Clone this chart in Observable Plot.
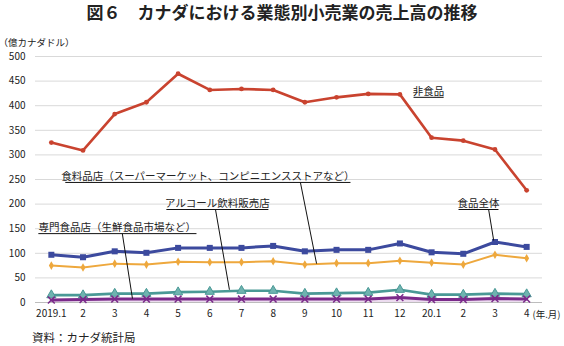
<!DOCTYPE html>
<html><head><meta charset="utf-8">
<script src="https://cdn.jsdelivr.net/npm/d3@7"></script>
<script src="https://cdn.jsdelivr.net/npm/@observablehq/plot@0.6"></script>
<style>
body{margin:0;background:#fff;font-family:'Noto Sans CJK JP',sans-serif;color:#222;}
#title{height:26px;line-height:24px;text-align:center;font-size:17px;font-weight:bold;width:564px;}
#cap{height:24px;padding-left:32px;padding-top:4px;line-height:22px;font-size:11.5px;box-sizing:border-box;}
</style></head>
<body>
<div id="title">図６　カナダにおける業態別小売業の売上高の推移</div>
<div id="chart"></div>
<div id="cap">資料：カナダ統計局</div>
<script>
const labels = ["2019.1","2","3","4","5","6","7","8","9","10","11","12","20.1","2","3","4"];
const nonFood   = [325,309,383,407,465,432,434,432,407,417,424,423,335,329,311,228];
const foodTotal = [97,92,104,101,111,111,111,115,104,107,107,120,102,99,123,113];
const grocery   = [75,71,79,77,83,82,82,84,77,80,80,85,81,77,97,90];
const alcohol   = [15,15,18,18,21,22,24,24,18,19,20,26,16,16,18,17];
const specialty = [5,6,7,7,7,7,7,7,7,7,7,10,6,6,8,7];
const yTicks = [0,50,100,150,200,250,300,350,400,450,500];
const unitLabel = "（億カナダドル）";
const xUnitLabel = "(年.月)";

// annotations: label text, center x (index), center y (value), underline x1,x2,y, leader line
const notes = [
  {text:"非食品", x:11.9, y:429, ux1:11.43, ux2:12.38, uy:417, lx1:null},
  {text:"食料品店（スーパーマーケット、コンピニエンスストアなど）", x:4.94, y:256, ux1:0.44, ux2:9.44, uy:244, lx1:7.86, ly1:244, lx2:8.37, ly2:79},
  {text:"アルコール飲料販売店", x:5.24, y:201, ux1:3.63, ux2:6.85, uy:189, lx1:5.18, ly1:189, lx2:5.62, ly2:26},
  {text:"専門食品店（生鮮食品市場など）", x:2.08, y:152, ux1:-0.41, ux2:4.58, uy:140, lx1:2.24, ly1:140, lx2:2.56, ly2:8},
  {text:"食品全体", x:13.48, y:201, ux1:12.85, ux2:14.11, uy:189, lx1:13.80, ly1:189, lx2:13.96, ly2:126}
];

const series = [
  {key:"nonFood", vals:nonFood, color:"#c9432f", sw:2.6, symbol:"circle", r:2.4},
  {key:"foodTotal", vals:foodTotal, color:"#3c4a9e", sw:3, symbol:"square", r:3.4},
  {key:"grocery", vals:grocery, color:"#eea83d", sw:2, symbol:"diamond", r:2.6},
  {key:"alcohol", vals:alcohol, color:"#4a9996", sw:2.6, symbol:"triangle", r:3.4},
  {key:"specialty", vals:specialty, color:"#7a2a8a", sw:3, symbol:"times", r:3.2}
];
const rows = s => s.vals.map((v,i)=>({i, v}));

const marks = [
  Plot.ruleY(yTicks.filter(d=>d>0), {stroke:"#d9d9d9", strokeWidth:1}),
  Plot.ruleY([0], {stroke:"#bdbdbd", strokeWidth:1.2}),
  Plot.areaY(rows(series[4]), {x:"i", y:"v", fill:"#ecdcef"})
];
for (const s of series) {
  marks.push(Plot.line(rows(s), {x:"i", y:"v", stroke:s.color, strokeWidth:s.sw}));
}
for (const s of series) {
  if (s.symbol === "times") {
    marks.push(Plot.dot(rows(s), {x:"i", y:"v", symbol:"times", r:s.r, stroke:s.color, strokeWidth:1.5}));
  } else if (s.symbol === "triangle") {
    marks.push(Plot.dot(rows(s), {x:"i", y:"v", symbol:"triangle", r:s.r, fill:"#6fb3b0", stroke:s.color, strokeWidth:1}));
  } else {
    marks.push(Plot.dot(rows(s), {x:"i", y:"v", symbol:s.symbol, r:s.r, fill:s.color}));
  }
}
marks.push(
  Plot.text(notes, {x:"x", y:"y", text:"text", fontSize:10.5, fill:"#222"}),
  Plot.link(notes, {x1:"ux1", x2:"ux2", y1:"uy", y2:"uy", stroke:"#111", strokeWidth:1}),
  Plot.link(notes.filter(d=>d.lx1!=null), {x1:"lx1", y1:"ly1", x2:"lx2", y2:"ly2", stroke:"#111", strokeWidth:1}),
  Plot.text([unitLabel], {frameAnchor:"top-left", text:d=>d, dx:-37, dy:-17, fontSize:9.5, textAnchor:"start", fill:"#222"}),
  Plot.text([xUnitLabel], {x:[15.5], y:[0], text:d=>d, dx:-10, dy:12, fontSize:9.5, textAnchor:"start", fill:"#222"})
);

const chart = Plot.plot({
  width:564, height:296,
  marginTop:30, marginBottom:20, marginLeft:35, marginRight:22,
  style:{fontFamily:"'Noto Sans CJK JP', sans-serif", fontSize:"10px", color:"#222", background:"#fff"},
  x:{domain:[-0.5,15.5], ticks:d3.range(labels.length), tickFormat:i=>labels[i], tickSize:0, tickPadding:7, label:null},
  y:{domain:[0,500], ticks:yTicks, tickSize:0, tickPadding:10, label:null},
  marks
});
document.getElementById("chart").appendChild(chart);
</script>
</body></html>
